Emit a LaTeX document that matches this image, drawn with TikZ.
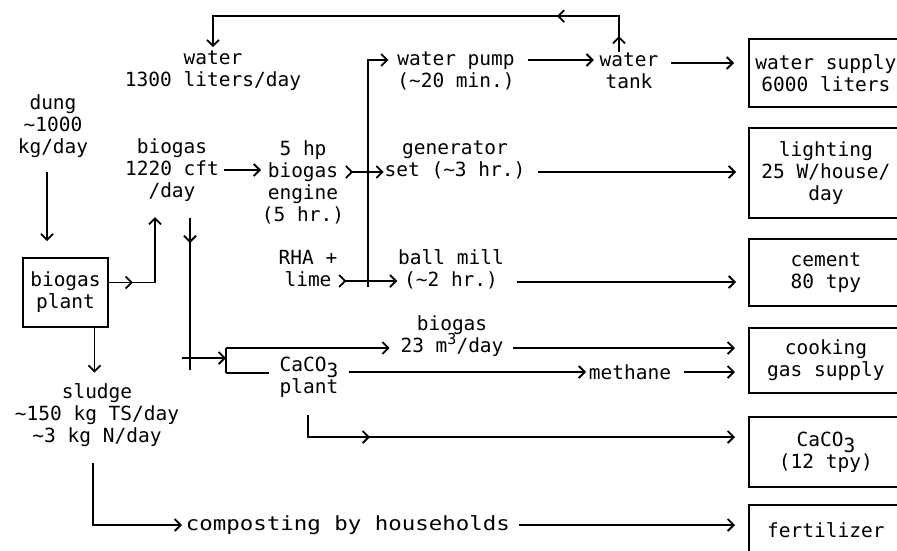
\documentclass[tikz,border=0pt]{standalone}
\usepackage{fontspec}
\setmainfont{DejaVu Sans Mono}
\usetikzlibrary{positioning, arrows.meta, decorations.markings}

\tikzset{
    >={Straight Barb[length=6pt,width=12pt]},
    lbl/.style={font=\fontsize{19.5}{22}\selectfont, align=center, inner sep=0pt},
    outbox/.style={lbl, draw, minimum width=154pt, minimum height=#1, anchor=west},
    tipat/.style={postaction={decorate, decoration={markings, mark=at position #1 with {\arrow{>}}}}}
}

\begin{document}
\begin{tikzpicture}[x=1pt, y=-1pt, line width=1.8pt, every node/.style={lbl}]
    \useasboundingbox (0,0) rectangle (897,550);
    \clip (0,0) rectangle (897,550);

    % Inputs and biogas plant
    \node (dung) at (53,126) {dung\\\textasciitilde1000\\kg/day};
    \node[draw, minimum width=85pt, minimum height=69pt] (plant) at (65.5,292.5) {biogas\\plant};
    \node (sludge) at (97,415) {sludge\\\textasciitilde150 kg TS/day\\\textasciitilde3 kg N/day};
    \node (bgas) at (172,170) {biogas\\1220 cft\\/day};
    \node (wtr) at (213,71) {water\\1300 liters/day};

    % Middle stages
    \node (eng) at (303,182) {5 hp\\biogas\\engine\\(5 hr.)};
    \node (rha) at (308,269) {RHA +\\lime};
    \node (pump) at (456,71) {water pump\\(\textasciitilde20 min.)};
    \node (tank) at (629,71) {water\\tank};
    \node (gen) at (455,160) {generator\\set (\textasciitilde3 hr.)};
    \node (mill) at (451,269) {ball mill\\(\textasciitilde2 hr.)};
    \node (bg23) at (452,336) {biogas\\23 m\smash{\raisebox{8pt}{\fontsize{15}{15}\selectfont 3}}/day};
    \node (caplant) at (309,377) {CaCO\smash{\raisebox{-6pt}{3}}\\plant};
    \node (meth) at (630,372) {methane};
    \node[anchor=west] (comp) at (185,525) {\scalebox{1.15}[1]{composting by households}};

    % Outputs
    \node[outbox=68pt] (wsup) at (748,73) {water supply\\6000 liters};
    \node[outbox=90pt] (light) at (748,173) {lighting\\25 W/house/\\day};
    \node[outbox=67pt] (cem) at (748,272.5) {cement\\80 tpy};
    \node[outbox=65pt] (cook) at (748,360.5) {cooking\\gas supply};
    \node[outbox=70pt] (caco) at (748,452) {CaCO\smash{\raisebox{-6pt}{3}}\\(12 tpy)};
    \node[outbox=50pt] (fert) at (748,530) {fertilizer};

    % Junction points
    \coordinate (bgin) at (155,217);
    \coordinate (bgout) at (190,218);
    \coordinate (bgbot) at (190,370);
    \coordinate (cross) at (182,358);
    \coordinate (brtop) at (226,348);
    \coordinate (brbot) at (226,373);
    \coordinate (bus) at (368,287);
    \coordinate (cadown) at (308,415);
    \coordinate (sldown) at (93,463);

    % Water loop
    \draw[tipat=16pt, tipat=98pt, ->, shorten >=3pt] ([xshift=-10pt]tank.north) -- ++(0,-36) -| (wtr.north);
    \draw[->, shorten <=12pt, shorten >=5pt] ([yshift=11pt]pump.east) -- ([yshift=11pt]pump.east -| tank.west);
    \draw[->, shorten <=12pt, shorten >=14pt] ([yshift=8pt]tank.east) -- ([yshift=8pt]tank.east -| wsup.west);

    % Biogas plant flows
    \draw[->, shorten <=14pt, shorten >=16pt] ([xshift=-6pt]dung.south) -- ([xshift=-6pt]dung.south |- plant.north);
    \draw[tipat=24pt, ->] ([yshift=10pt]plant.east) -| (bgin);
    \draw[->, shorten >=10pt] ([xshift=29pt]plant.south) -- ([xshift=29pt]plant.south |- sludge.north);
    \draw[->, shorten >=3pt] (sldown) |- (comp.west);
    \draw[->, shorten <=8pt, shorten >=13pt] (comp.east) -- (comp.east -| fert.west);

    % Engine and power users
    \draw[->, shorten <=4pt] (bgas.east) -- (bgas.east -| eng.west);
    \draw[->] (bus) |- ([xshift=-8pt, yshift=11pt]pump.west);
    \draw[>->] ([yshift=10pt]eng.east) -- ([yshift=10pt]eng.east -| gen.west);
    \draw[->, shorten <=12pt, shorten >=12pt] ([yshift=-12pt]gen.east) -- ([yshift=-12pt]gen.east -| light.west);
    \draw[>->] ([yshift=-12pt]rha.east) -- ([yshift=-12pt]rha.east -| mill.west);
    \draw[->, shorten <=12pt, shorten >=12pt] ([yshift=-13pt]mill.east) -- ([yshift=-13pt]mill.east -| cem.west);

    % Cooking gas and CaCO3
    \draw[tipat=25pt] (bgout) -- (bgbot);
    \draw[->] (cross) -- (cross -| brtop);
    \draw (brtop) -- (brbot);
    \draw[->, shorten >=10pt] (brtop) -- (brtop -| bg23.west);
    \draw[shorten >=10pt] (brbot) -- (brbot -| caplant.west);
    \draw[->, shorten <=10pt, shorten >=2pt] (caplant.east |- meth.west) -- (meth.west);
    \draw[->, shorten <=12pt, shorten >=13pt] (meth.east) -- (meth.east -| cook.west);
    \draw[->, shorten <=9pt, shorten >=13pt] ([yshift=-12pt]bg23.east) -- ([yshift=-12pt]bg23.east -| cook.west);
    \draw[tipat=84pt, ->, shorten >=13pt] (cadown) |- ([yshift=15pt]caco.west);
\end{tikzpicture}
\end{document}
